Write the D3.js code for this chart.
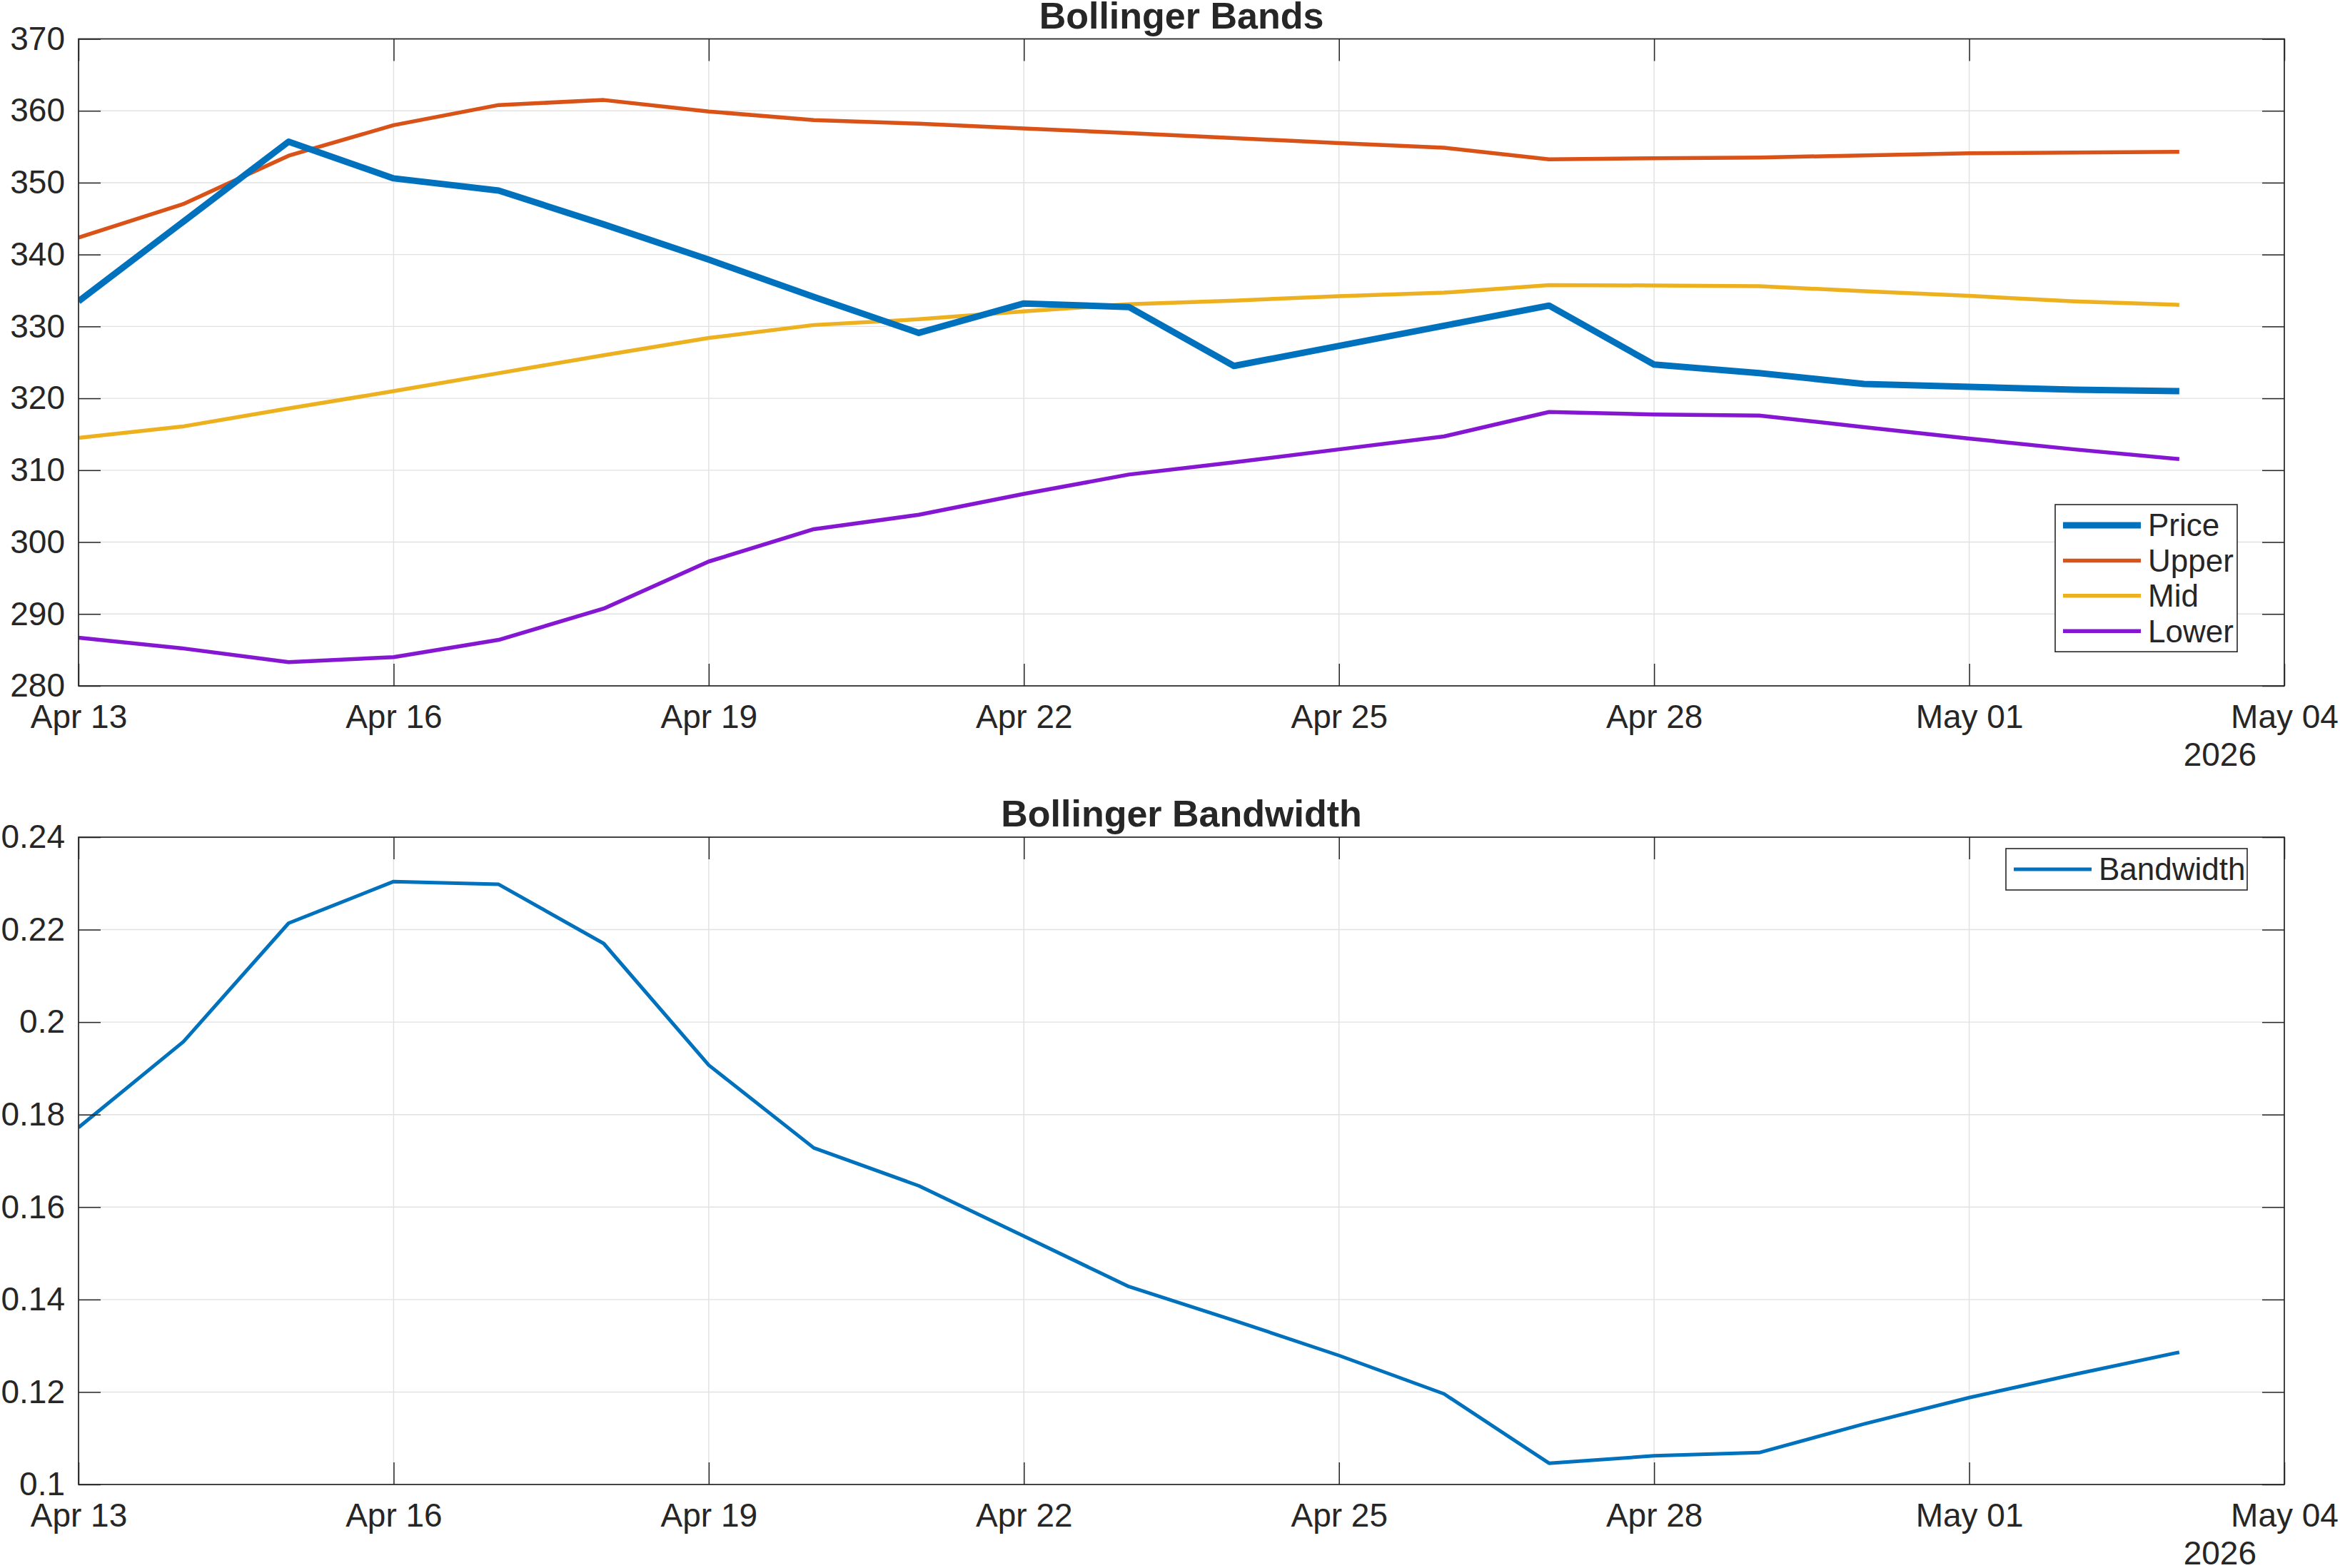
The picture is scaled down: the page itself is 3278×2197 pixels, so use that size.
<!DOCTYPE html>
<html>
<head>
<meta charset="utf-8">
<script src="https://cdn.jsdelivr.net/npm/d3@7"></script>
<style>
  html, body { margin: 0; padding: 0; background: #ffffff; }
  svg { display: block; }
  text { font-family: "Liberation Sans", Arial, Helvetica, sans-serif; fill: #262626; }
</style>
</head>
<body>
<svg id="chart" width="3278" height="2197"></svg>
<script>
// ---------------- DATA ----------------
const dates = [
  "2026-04-13", "2026-04-14", "2026-04-15", "2026-04-16", "2026-04-17", "2026-04-18", "2026-04-19",
  "2026-04-20", "2026-04-21", "2026-04-22", "2026-04-23", "2026-04-24", "2026-04-25", "2026-04-26",
  "2026-04-27", "2026-04-28", "2026-04-29", "2026-04-30", "2026-05-01", "2026-05-02", "2026-05-03"
];
const price = [333.5, 344.6, 355.7, 350.6, 348.9, 344.2, 339.3, 334.1, 329.1, 333.2, 332.7,
               324.5, 327.3, 330.1, 332.9, 324.7, 323.5, 322.0, 321.6, 321.2, 321.0];
const upper = [342.35, 347.05, 353.75, 358.0, 360.8, 361.5, 359.9, 358.7, 358.2, 357.55, 356.9,
               356.2, 355.5, 354.85, 353.25, 353.4, 353.5, 353.8, 354.1, 354.2, 354.3];
const mid   = [314.5, 316.1, 318.6, 321.0, 323.5, 326.0, 328.4, 330.2, 331.0, 332.1, 333.1,
               333.6, 334.2, 334.7, 335.75, 335.7, 335.6, 334.9, 334.25, 333.5, 333.0];
const lower = [286.7, 285.2, 283.3, 284.0, 286.4, 290.75, 297.3, 301.8, 303.8, 306.7, 309.4,
               311.1, 312.9, 314.7, 318.1, 317.75, 317.6, 316.0, 314.4, 312.9, 311.55];
const bandwidth = [0.1772, 0.1958, 0.2214, 0.2304, 0.2298, 0.2170, 0.1907, 0.1728, 0.1646, 0.1537, 0.1428,
                   0.1355, 0.1279, 0.1196, 0.1046, 0.1062, 0.1069, 0.1131, 0.1188, 0.1238, 0.1286];

const xDomain = ["2026-04-13", "2026-05-04"];
const xTickDates  = ["2026-04-13", "2026-04-16", "2026-04-19", "2026-04-22", "2026-04-25", "2026-04-28", "2026-05-01", "2026-05-04"];
const xTickLabels = ["Apr 13", "Apr 16", "Apr 19", "Apr 22", "Apr 25", "Apr 28", "May 01", "May 04"];
const yearLabel = "2026";

const yTicksTop = [280, 290, 300, 310, 320, 330, 340, 350, 360, 370];
const yTickLabelsTop = ["280", "290", "300", "310", "320", "330", "340", "350", "360", "370"];
const yTicksBottom = [0.1, 0.12, 0.14, 0.16, 0.18, 0.2, 0.22, 0.24];
const yTickLabelsBottom = ["0.1", "0.12", "0.14", "0.16", "0.18", "0.2", "0.22", "0.24"];

const bandSeries = [
  { name: "Price", values: price, color: "#0072BD", width: 9 },
  { name: "Upper", values: upper, color: "#D95319", width: 5.5 },
  { name: "Mid",   values: mid,   color: "#EDB120", width: 5.5 },
  { name: "Lower", values: lower, color: "#8516D2", width: 5.5 }
];
const bwSeries = [
  { name: "Bandwidth", values: bandwidth, color: "#0072BD", width: 5 }
];

// ---------------- LAYOUT ----------------
const parse = d3.utcParse("%Y-%m-%d");
const svg = d3.select("#chart");
const INK = "#262626";
const GRID = "#E1E1E1";
const TICK_LEN = 31;
const FONT = 46;

const panels = [
  { title: "Bollinger Bands", series: bandSeries, yDomain: [280, 370], yTicks: yTicksTop, yLabels: yTickLabelsTop,
    left: 110, right: 3200, top: 54.5, bottom: 961, titleY: 40,
    legend: { x: 2879, y: 707, w: 255, rowH: 49.4, rowTop: 29, lineX0: 11, lineX1: 120, textX: 130 } },
  { title: "Bollinger Bandwidth", series: bwSeries, yDomain: [0.1, 0.24], yTicks: yTicksBottom, yLabels: yTickLabelsBottom,
    left: 110, right: 3200, top: 1173, bottom: 2080, titleY: 1158,
    legend: { x: 2810, y: 1189, w: 338, rowH: 59, rowTop: 29, lineX0: 11, lineX1: 120, textX: 130 } }
];

panels.forEach(p => {
  const x = d3.scaleUtc().domain(xDomain.map(parse)).range([p.left, p.right]);
  const y = d3.scaleLinear().domain(p.yDomain).range([p.bottom, p.top]);
  const g = svg.append("g");

  // grid
  const grid = g.append("g");
  grid.selectAll(".gx").data(xTickDates.map(parse)).join("line")
    .attr("x1", d => x(d)).attr("x2", d => x(d))
    .attr("y1", p.top).attr("y2", p.bottom)
    .attr("stroke", GRID).attr("stroke-width", 1.4);
  grid.selectAll(".gy").data(p.yTicks).join("line")
    .attr("x1", p.left).attr("x2", p.right)
    .attr("y1", d => y(d)).attr("y2", d => y(d))
    .attr("stroke", GRID).attr("stroke-width", 1.4);

  // clip
  const clipId = "clip" + Math.round(p.top);
  svg.append("defs").append("clipPath").attr("id", clipId)
    .append("rect").attr("x", p.left).attr("y", p.top)
    .attr("width", p.right - p.left).attr("height", p.bottom - p.top);

  // series lines
  const line = d3.line().x((d, i) => x(parse(dates[i]))).y(d => y(d));
  const lg = g.append("g").attr("clip-path", `url(#${clipId})`);
  p.series.slice().reverse().forEach(s => {
    lg.append("path").datum(s.values)
      .attr("d", line)
      .attr("fill", "none")
      .attr("stroke", s.color)
      .attr("stroke-width", s.width)
      .attr("stroke-linejoin", "round");
  });

  // axes
  const xLabelOf = d => xTickLabels[xTickDates.indexOf(d3.utcFormat("%Y-%m-%d")(d))];
  const yLabelOf = d => p.yLabels[p.yTicks.indexOf(d)];

  const axB = g.append("g").attr("transform", `translate(0,${p.bottom})`)
    .call(d3.axisBottom(x).tickValues(xTickDates.map(parse)).tickFormat(xLabelOf)
      .tickSize(-TICK_LEN).tickSizeOuter(0).tickPadding(26));
  const axT = g.append("g").attr("transform", `translate(0,${p.top})`)
    .call(d3.axisTop(x).tickValues(xTickDates.map(parse)).tickFormat("")
      .tickSize(-TICK_LEN).tickSizeOuter(0));
  const axL = g.append("g").attr("transform", `translate(${p.left},0)`)
    .call(d3.axisLeft(y).tickValues(p.yTicks).tickFormat(yLabelOf)
      .tickSize(-TICK_LEN).tickSizeOuter(0).tickPadding(19));
  const axR = g.append("g").attr("transform", `translate(${p.right},0)`)
    .call(d3.axisRight(y).tickValues(p.yTicks).tickFormat("")
      .tickSize(-TICK_LEN).tickSizeOuter(0));

  [axB, axT, axL, axR].forEach(a => {
    a.select(".domain").remove();
    a.selectAll(".tick line").attr("stroke", INK).attr("stroke-width", 1.5);
    a.selectAll(".tick text").attr("font-size", FONT)
      .attr("font-family", '"Liberation Sans", Arial, Helvetica, sans-serif').attr("fill", INK);
  });

  // box
  g.append("rect").attr("x", p.left).attr("y", p.top)
    .attr("width", p.right - p.left).attr("height", p.bottom - p.top)
    .attr("fill", "none").attr("stroke", INK).attr("stroke-width", 1.7);

  // year label
  g.append("text").attr("x", 3161).attr("y", p.bottom + 112)
    .attr("text-anchor", "end").attr("font-size", FONT).text(yearLabel);

  // title
  g.append("text").attr("x", (p.left + p.right) / 2).attr("y", p.titleY)
    .attr("text-anchor", "middle").attr("font-size", 52).attr("font-weight", "bold").text(p.title);

  // legend
  const L = p.legend;
  const n = p.series.length;
  const boxH = L.rowTop * 2 + (n - 1) * L.rowH;
  const leg = g.append("g").attr("transform", `translate(${L.x},${L.y})`);
  leg.append("rect").attr("width", L.w).attr("height", boxH)
    .attr("fill", "#ffffff").attr("stroke", INK).attr("stroke-width", 1.6);
  p.series.forEach((s, i) => {
    const cy = L.rowTop + i * L.rowH;
    leg.append("line").attr("x1", L.lineX0).attr("x2", L.lineX1).attr("y1", cy).attr("y2", cy)
      .attr("stroke", s.color).attr("stroke-width", s.width);
    leg.append("text").attr("x", L.textX).attr("y", cy).attr("dy", "0.35em")
      .attr("font-size", 44).text(s.name);
  });
});
</script>
</body>
</html>
